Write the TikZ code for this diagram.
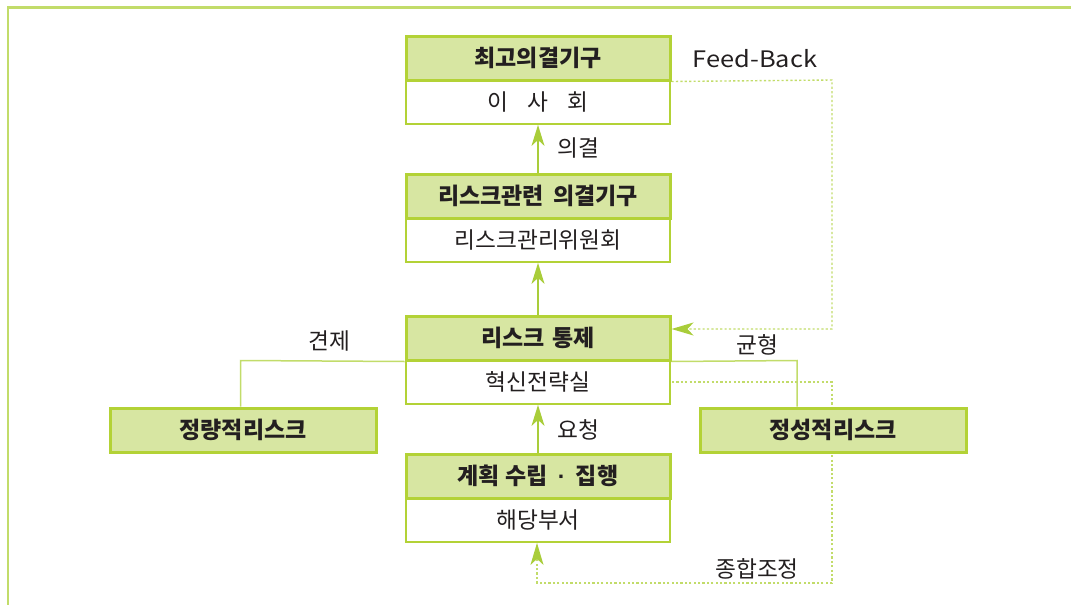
\documentclass[tikz,border=0pt]{standalone}
\usepackage{fontspec}
\setmainfont{Noto Sans CJK KR}
\newfontfamily\dotfont{Liberation Sans}
\usetikzlibrary{arrows.meta}
\definecolor{gborder}{HTML}{B3D236}
\definecolor{gfill}{HTML}{D7E6A2}
\definecolor{gline}{HTML}{C2DC6A}
\definecolor{garrow}{HTML}{A9CD3A}
\definecolor{txt}{HTML}{231F20}
\begin{document}
\begin{tikzpicture}[x=1pt,y=-1pt,
  head/.style={draw=gborder, line width=3pt, fill=gfill, minimum width=264pt, minimum height=44pt, inner sep=0pt, font=\fontsize{23}{27}\selectfont\bfseries, text=txt},
  sub/.style={draw=gborder, line width=1.8pt, fill=white, minimum width=264pt, minimum height=44pt, inner sep=0pt, font=\fontsize{22.7}{27}\selectfont, text=txt},
  lbl/.style={font=\fontsize{22.7}{27}\selectfont, text=txt, inner sep=0pt},
  arr/.style={draw=garrow, line width=1.3pt, -{Stealth[length=21pt,width=13pt,inset=6pt,color=garrow]}},
  dotline/.style={draw=gline, line width=1.4pt, dash pattern=on 2.2pt off 2.2pt},
  dotarr/.style={dotline, -{Stealth[length=22pt,width=13pt,inset=6pt,color=garrow]}},
  thinline/.style={draw=gline, line width=1.5pt}
]
\useasboundingbox (0,0) rectangle (1071,605);
% frame
\draw[draw=gline, line width=2.2pt] (8,605) -- (8,7.5) -- (1071,7.5);

% central boxes
\node[sub]  (b1s) at (538,102) {이\hspace{0.85em}사\hspace{0.85em}회};
\node[head] (b1h) at (538,58)  {최고의결기구};
\node[sub]  (b2s) at (538,240) {리스크관리위원회};
\node[head] (b2h) at (538,196) {리스크관련\hspace{0.4em}의결기구};
\node[sub]  (b3s) at (538,382) {혁신전략실};
\node[head] (b3h) at (538,338) {리스크\hspace{0.3em}통제};
\node[sub]  (b4s) at (538,520) {해당부서};
\node[head] (b4h) at (538,476) {계획 수립\hspace{0.45em}{\dotfont\bfseries ·}\hspace{0.45em}집행};

% feedback
\coordinate (fb1) at (832,80);
\coordinate (fb2) at (832,329);
\draw[dotarr] (b1h.south east) -- (fb1) -- (fb2) -- (b3h.east |- fb2);
\node[lbl] (fbl) at (755,58.5) {\scalebox{1.12}[1]{Feed-Back}};

% comprehensive adjustment
\coordinate (ca0) at (672,382);
\coordinate (ca1) at (832,382);
\coordinate (ca2) at (832,583);
\coordinate (ca3) at (537,583);
\draw[dotarr] (ca0) -- (ca1) -- (ca2) -- (ca3) -- (b4s.south -| ca3);
\node[lbl] (cal) at (757,569) {종합조정};

% side boxes
\node[head, minimum width=266pt] (lq) at (243,430) {정량적리스크};
\node[head, minimum width=266pt] (rq) at (833,430) {정성적리스크};

% vertical arrows
\draw[arr] (b2h.north) -- (b1s.south);
\draw[arr] (b3h.north) -- (b2s.south);
\draw[arr] (b4h.north) -- (b3s.south);
\node[lbl] (l1) at (578,148) {의결};
\node[lbl] (l2) at (578,430) {요청};

% check / balance
\coordinate (k1) at (240.5,360.5);
\coordinate (g1) at (797,360.5);
\draw[thinline] (b3h.south west) -- (k1) -- (lq.north -| k1);
\draw[thinline] (b3h.south east) -- (g1) -- (rq.north -| g1);
\node[lbl] (kl) at (329,341) {견제};
\node[lbl] (gl) at (757,345) {균형};
\end{tikzpicture}
\end{document}
